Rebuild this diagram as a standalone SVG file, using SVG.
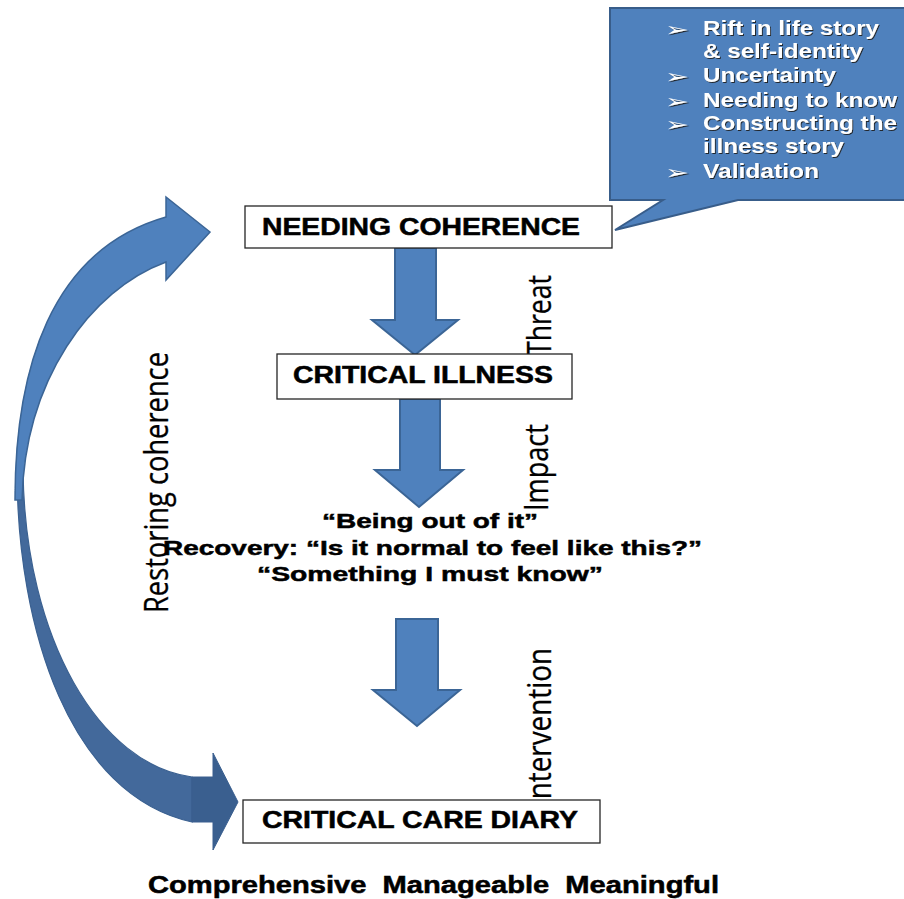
<svg xmlns="http://www.w3.org/2000/svg" width="904" height="899" viewBox="0 0 904 899">
<style>
.box{fill:#fff;stroke:#262626;stroke-width:1.3}
.blk{fill:#4f81bd;stroke:#3b6596;stroke-width:2}
.bt{font-family:"Liberation Sans",Arial,sans-serif;font-weight:bold;fill:#000;stroke:#000;stroke-width:0.5}
.vt{font-family:"Open Sans","Liberation Sans",sans-serif;fill:#000;stroke:#000;stroke-width:0.3;font-size:33px}
.ct{font-family:"Liberation Sans",Arial,sans-serif;font-weight:bold;font-size:21px;fill:#fff;filter:url(#sh)}
.bul{font-family:"DejaVu Sans",sans-serif;font-size:19px;fill:#fff;filter:url(#sh)}
</style>
<defs>
<filter id="sh" x="-10%" y="-30%" width="120%" height="160%">
<feDropShadow dx="1" dy="1" stdDeviation="0.4" flood-color="#1a1a1a" flood-opacity="0.9"/>
</filter>
</defs>
<rect width="904" height="899" fill="#fff"/>

<g id="connectors">
<path id="restore-down" d="M17,470 C17,630 70,795 192,822 L192,777 C100,765 25,640 23,470 Z" fill="#43699b" stroke="#3b6191" stroke-width="1.2"/>
<path d="M192,777 L213,777 L213,753 L238,802 L213,850 L213,822 L192,822 Z" fill="#3a5f8f" stroke="#3a5f8f" stroke-width="1"/>
<path id="restore-up" d="M15,500 C15,370 50,250 166,217 L166,197 L210,232 L166,280 L166,262 C90,290 25,380 22,500 Z" fill="#4f81bd" stroke="#3b6596" stroke-width="1.5"/>
<path id="arrow-threat" class="blk" d="M395,248 L436,248 L436,320 L458,320 L415,355 L372,320 L395,320 Z"/>
<path id="arrow-impact" class="blk" d="M400,399 L440,399 L440,470 L463,470 L419,507 L375,470 L400,470 Z"/>
<path id="arrow-intervention" class="blk" d="M396,619 L438,619 L438,690 L460,690 L417,726 L373,690 L396,690 Z"/>
<text class="vt" transform="translate(551,356) rotate(-90)" textLength="81" lengthAdjust="spacingAndGlyphs">Threat</text>
<text class="vt" transform="translate(548,511) rotate(-90)" textLength="87" lengthAdjust="spacingAndGlyphs">Impact</text>
<text class="vt" transform="translate(551,807) rotate(-90)" textLength="159" lengthAdjust="spacingAndGlyphs">Intervention</text>
<text class="vt" transform="translate(168,613) rotate(-90)" textLength="261" lengthAdjust="spacingAndGlyphs">Restoring coherence</text>
</g>

<g id="callout">
<path d="M610,8 L908,8 L908,200 L738,200 L615,230 L663,200 L610,200 Z" fill="#4f81bd" stroke="#385d8a" stroke-width="2"/>
<text class="bul" transform="translate(665,36) scale(1.5,1)">➢</text>
<text class="ct" x="703" y="35" textLength="176" lengthAdjust="spacingAndGlyphs">Rift in life story</text>
<text class="ct" x="703" y="58" textLength="160" lengthAdjust="spacingAndGlyphs">&amp; self-identity</text>
<text class="bul" transform="translate(665,83) scale(1.5,1)">➢</text>
<text class="ct" x="703" y="82" textLength="133" lengthAdjust="spacingAndGlyphs">Uncertainty</text>
<text class="bul" transform="translate(665,108) scale(1.5,1)">➢</text>
<text class="ct" x="703" y="107" textLength="194" lengthAdjust="spacingAndGlyphs">Needing to know</text>
<text class="bul" transform="translate(665,131) scale(1.5,1)">➢</text>
<text class="ct" x="703" y="130" textLength="194" lengthAdjust="spacingAndGlyphs">Constructing the</text>
<text class="ct" x="703" y="153" textLength="141" lengthAdjust="spacingAndGlyphs">illness story</text>
<text class="bul" transform="translate(665,179) scale(1.5,1)">➢</text>
<text class="ct" x="703" y="178" textLength="116" lengthAdjust="spacingAndGlyphs">Validation</text>
</g>

<g id="needing-coherence">
<rect class="box" x="245" y="206" width="367" height="42"/>
<text class="bt" x="262" y="235" font-size="23" textLength="318" lengthAdjust="spacingAndGlyphs">NEEDING COHERENCE</text>
</g>

<g id="critical-illness">
<rect class="box" x="277" y="354" width="295" height="45"/>
<text class="bt" x="293" y="383" font-size="23" textLength="260" lengthAdjust="spacingAndGlyphs">CRITICAL ILLNESS</text>
</g>

<g id="experience">
<text class="bt" x="322" y="528" font-size="21" textLength="216" lengthAdjust="spacingAndGlyphs">“Being out of it”</text>
<text class="bt" x="163" y="555" font-size="21" textLength="539" lengthAdjust="spacingAndGlyphs">Recovery: “Is it normal to feel like this?”</text>
<text class="bt" x="257" y="581" font-size="21" textLength="346" lengthAdjust="spacingAndGlyphs">“Something I must know”</text>
</g>

<g id="critical-care-diary">
<rect class="box" x="243" y="800" width="357" height="43"/>
<text class="bt" x="262" y="828" font-size="23" textLength="316" lengthAdjust="spacingAndGlyphs">CRITICAL CARE DIARY</text>
</g>

<g id="outcomes">
<text class="bt" x="148" y="893" font-size="23" xml:space="preserve" textLength="571" lengthAdjust="spacingAndGlyphs">Comprehensive  Manageable  Meaningful</text>
</g>
</svg>
